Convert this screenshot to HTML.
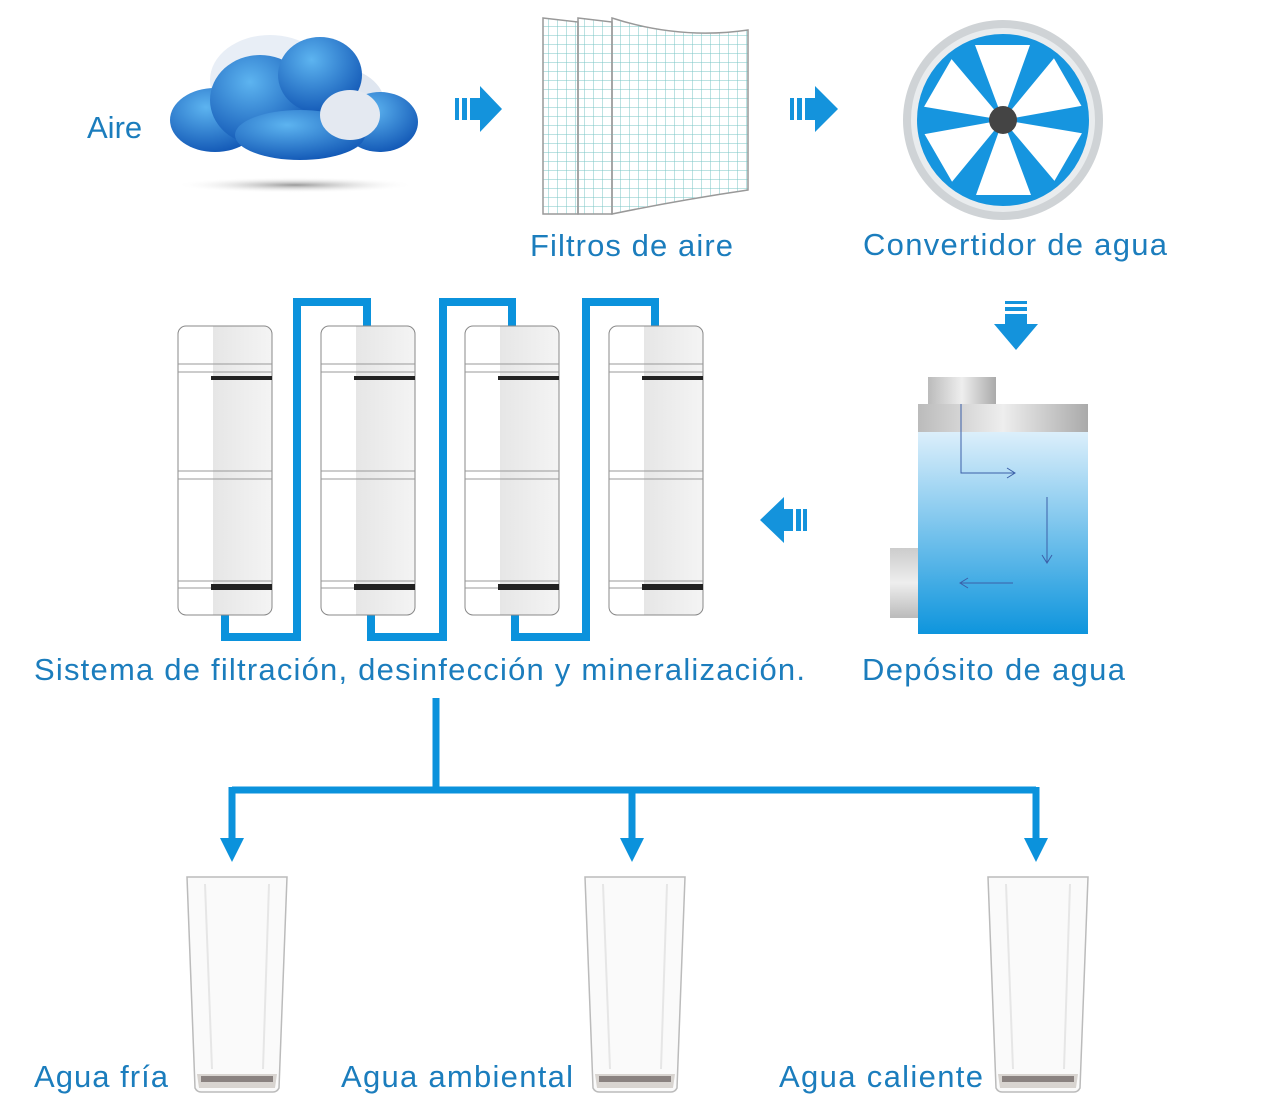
<!DOCTYPE html>
<html><head><meta charset="utf-8"><style>
html,body{margin:0;padding:0;background:#fff}
svg{display:block}
text{font-family:"Liberation Sans",sans-serif;fill:#1b7dbd;font-size:31px}
</style></head><body>
<svg width="1286" height="1112" viewBox="0 0 1286 1112" xmlns="http://www.w3.org/2000/svg">
<defs>
<linearGradient id="cart" x1="0" x2="1"><stop offset="0" stop-color="#fff"/><stop offset="0.37" stop-color="#fff"/><stop offset="0.37" stop-color="#e6e6e6"/><stop offset="1" stop-color="#f4f4f4"/></linearGradient>
<linearGradient id="water" x1="0" y1="0" x2="0" y2="1"><stop offset="0" stop-color="#dceffb"/><stop offset="1" stop-color="#0e95dd"/></linearGradient>
<linearGradient id="metal" x1="0" x2="1"><stop offset="0" stop-color="#bbb"/><stop offset="0.5" stop-color="#eee"/><stop offset="1" stop-color="#aaa"/></linearGradient>
<linearGradient id="metalv" x1="0" y1="0" x2="0" y2="1"><stop offset="0" stop-color="#ccc"/><stop offset="0.5" stop-color="#eee"/><stop offset="1" stop-color="#bbb"/></linearGradient>
<radialGradient id="cl" cx="0.4" cy="0.3" r="0.8"><stop offset="0" stop-color="#5db4f0"/><stop offset="1" stop-color="#0b4fb0"/></radialGradient>
<radialGradient id="sh"><stop offset="0" stop-color="#999"/><stop offset="1" stop-color="#fff" stop-opacity="0"/></radialGradient>
<pattern id="grid" width="9" height="9" patternUnits="userSpaceOnUse"><path d="M9 0V9M0 9H9" stroke="#7ac6c6" stroke-width="1" fill="none"/></pattern>
<g id="cartridge">
<rect x="0" y="0" width="94" height="289" rx="8" fill="url(#cart)" stroke="#888" stroke-width="1"/>
<path d="M0 38H94M0 46H94M0 145H94M0 153H94M0 255H94M0 262H94" stroke="#999" fill="none"/>
<rect x="33" y="50" width="61" height="4" fill="#222"/>
<rect x="33" y="258" width="61" height="6" fill="#222"/>
</g>
<g id="glass">
<path d="M0 3 L100 3 L92 214 Q90 218 86 218 L14 218 Q10 218 8 214 Z" fill="#fafafa" stroke="#bbb" stroke-width="1.5"/>
<path d="M10 200 L90 200 L88 214 L12 214 Z" fill="#d8d4d0"/>
<path d="M14 205 H86" stroke="#8a8280" stroke-width="6"/>
<path d="M18 10 L25 195 M82 10 L76 195" stroke="#e6e6e6" stroke-width="2"/>
</g>
</defs>

<ellipse cx="295" cy="185" rx="120" ry="8" fill="url(#sh)"/>
<g>
<ellipse cx="270" cy="80" rx="60" ry="45" fill="#e8eef6"/>
<ellipse cx="335" cy="105" rx="50" ry="38" fill="#dfe6f0"/>
<ellipse cx="215" cy="120" rx="45" ry="32" fill="url(#cl)"/>
<ellipse cx="260" cy="100" rx="50" ry="45" fill="url(#cl)"/>
<ellipse cx="320" cy="75" rx="42" ry="38" fill="url(#cl)"/>
<ellipse cx="380" cy="122" rx="38" ry="30" fill="url(#cl)"/>
<ellipse cx="300" cy="135" rx="65" ry="25" fill="url(#cl)"/>
<ellipse cx="350" cy="115" rx="30" ry="25" fill="#e4e9f1"/>
</g>
<text x="87" y="138">Aire</text>

<g fill="#1493dc">
<rect x="455" y="98" width="4" height="22"/><rect x="462" y="98" width="5" height="22"/>
<path d="M470 98H480V86L502 109L480 132V120H470Z"/>
<rect x="790" y="98" width="4" height="22"/><rect x="797" y="98" width="5" height="22"/>
<path d="M805 98H815V86L838 109L815 132V120H805Z"/>
<rect x="1005" y="301" width="22" height="3"/><rect x="1005" y="307" width="22" height="4"/>
<path d="M1005 314H1027V324H1038L1016 350L994 324H1005Z"/>
<rect x="803" y="509" width="4" height="22"/><rect x="796" y="509" width="5" height="22"/>
<path d="M793 509H784V497L760 520L784 543V531H793Z"/>
</g>

<g stroke="#999" stroke-width="1.5">
<path d="M543 18 L578 22 L578 214 L543 214Z" fill="url(#grid)"/>
<path d="M578 18 L612 22 L612 214 L578 214Z" fill="url(#grid)"/>
<path d="M612 18 Q680 40 748 30 L748 190 Q680 200 612 214Z" fill="url(#grid)"/>
</g>
<text x="530" y="256" textLength="203">Filtros de aire</text>

<circle cx="1003" cy="120" r="100" fill="#cfd3d6"/>
<circle cx="1003" cy="120" r="92" fill="#e9ecee"/>
<circle cx="1003" cy="120" r="86" fill="#1695df"/>
<g fill="#fff">
<path d="M1003 120 L975 45 L1030 45 Z" transform="rotate(0 1003 120)"/>
<path d="M1003 120 L975 45 L1030 45 Z" transform="rotate(60 1003 120)"/>
<path d="M1003 120 L975 45 L1030 45 Z" transform="rotate(120 1003 120)"/>
<path d="M1003 120 L975 45 L1030 45 Z" transform="rotate(180 1003 120)"/>
<path d="M1003 120 L975 45 L1030 45 Z" transform="rotate(240 1003 120)"/>
<path d="M1003 120 L975 45 L1030 45 Z" transform="rotate(300 1003 120)"/>
</g>
<circle cx="1003" cy="120" r="14" fill="#444"/>
<text x="863" y="255" textLength="304">Convertidor de agua</text>

<g stroke="#0b92dc" stroke-width="8" fill="none">
<path d="M225 612V637H297V302H367V330"/>
<path d="M371 612V637H443V302H512V330"/>
<path d="M515 612V637H586V302H655V330"/>
</g>
<use href="#cartridge" x="178" y="326"/>
<use href="#cartridge" x="321" y="326"/>
<use href="#cartridge" x="465" y="326"/>
<use href="#cartridge" x="609" y="326"/>

<rect x="928" y="377" width="68" height="28" fill="url(#metal)"/>
<rect x="918" y="404" width="170" height="28" fill="url(#metal)"/>
<rect x="918" y="432" width="170" height="202" fill="url(#water)"/>
<rect x="890" y="548" width="28" height="70" fill="url(#metalv)"/>
<g stroke="#3b5fa8" stroke-width="1" fill="none">
<path d="M961 404V473H1015M1007 468L1015 473L1007 478"/>
<path d="M1047 497V563M1042 555L1047 563L1052 555"/>
<path d="M1013 583H960M968 578L960 583L968 588"/>
</g>
<text x="34" y="680" textLength="771">Sistema de filtración, desinfección y mineralización.</text>
<text x="862" y="680" textLength="263">Depósito de agua</text>

<g stroke="#0b92dc" stroke-width="7" fill="none">
<path d="M436 698V790M232 790H1036M232 787V842M632 787V842M1036 787V842"/>
</g>
<g fill="#0b92dc">
<path d="M220 838H244L232 862Z"/><path d="M620 838H644L632 862Z"/><path d="M1024 838H1048L1036 862Z"/>
</g>
<use href="#glass" x="187" y="874"/>
<use href="#glass" x="585" y="874"/>
<use href="#glass" x="988" y="874"/>
<text x="34" y="1087" textLength="134">Agua fría</text>
<text x="341" y="1087" textLength="232">Agua ambiental</text>
<text x="779" y="1087" textLength="204">Agua caliente</text>
</svg>
</body></html>
